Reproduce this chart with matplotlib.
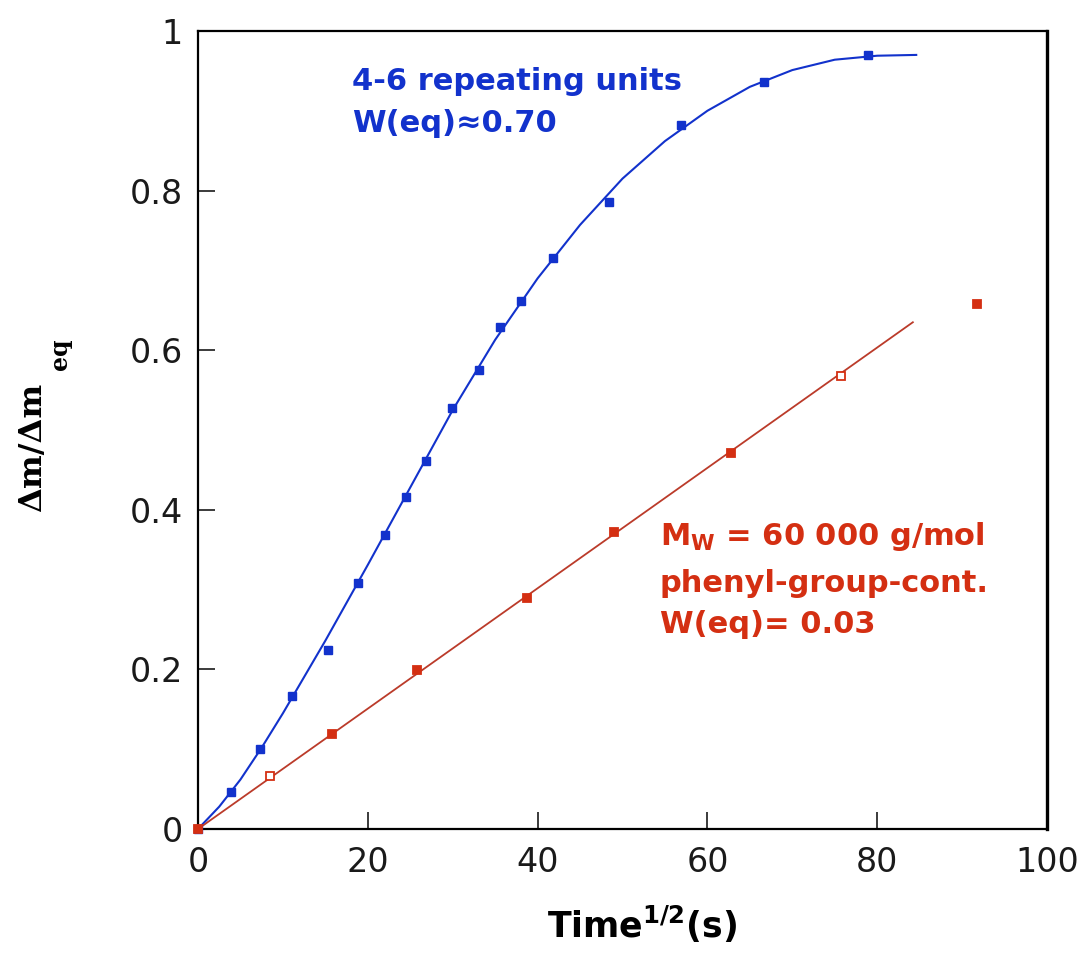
import matplotlib.pyplot as plt

# data
blue_x = [0, 3.9, 7.3, 11.1, 15.3, 18.8, 22.0, 24.5, 26.8, 29.9, 33.1, 35.6, 38.0, 41.8, 48.4, 56.9, 66.7, 78.9]
blue_y = [0, 0.046, 0.100, 0.167, 0.224, 0.308, 0.368, 0.416, 0.461, 0.528, 0.575, 0.629, 0.662, 0.716, 0.786, 0.882, 0.936, 0.970]

# fitted curve (blue)
fit_x = [0, 2.5, 5, 7.5, 10, 15, 20, 25, 30, 35, 40, 45, 50, 55, 60, 65, 70, 75, 80, 84.6]
fit_y = [0, 0.028, 0.062, 0.102, 0.145, 0.236, 0.331, 0.428, 0.525, 0.613, 0.690, 0.757, 0.815, 0.862, 0.900, 0.930, 0.951, 0.964, 0.969, 0.970]

red_x = [0, 8.5, 15.8, 25.8, 38.8, 49.0, 62.8, 75.7, 91.8]
red_y = [0, 0.066, 0.119, 0.199, 0.289, 0.372, 0.471, 0.568, 0.658]
red_open = [False, True, False, False, False, False, False, True, False]

# linear fit (red)
red_fit_x = [0, 84.2]
red_fit_y = [0, 0.635]

xticks = [0, 20, 40, 60, 80, 100]
yticks = [0, 0.2, 0.4, 0.6, 0.8, 1.0]
ytick_labels = ['0', '0.2', '0.4', '0.6', '0.8', '1']

blue = '#1232cc'
red = '#d42f12'
red_line = '#bb3b2a'

fig = plt.figure(figsize=(10.88, 9.68), dpi=100)
ax = fig.add_axes([0.182, 0.1436, 0.7803, 0.8244])

ax.plot(fit_x, fit_y, color=blue, lw=1.5, zorder=2)
ax.plot(blue_x, blue_y, 's', color=blue, ms=5.5, zorder=3, clip_on=False)

ax.plot(red_fit_x, red_fit_y, color=red_line, lw=1.3, zorder=2)
for x, y, o in zip(red_x, red_y, red_open):
    ax.plot(x, y, 's', ms=5.5, mec=red, mfc='white' if o else red, mew=1.3, zorder=3, clip_on=False)

ax.set_xlim(0, 100)
ax.set_ylim(0, 1)
ax.set_xticks(xticks)
ax.set_yticks(yticks)
ax.set_yticklabels(ytick_labels)
ax.tick_params(direction='in', length=12, width=1.2, labelsize=24, colors='#1a1a1a')
ax.tick_params(axis='x', pad=12)
ax.tick_params(axis='y', pad=11)
for s in ax.spines.values():
    s.set_linewidth(1.6)
ax.spines['right'].set_linewidth(2.4)

# annotations
ax.text(18.1, 0.926, '4-6 repeating units', color=blue, fontsize=22, fontweight='bold', va='baseline')
ax.text(18.1, 0.873, 'W(eq)≈0.70', color=blue, fontsize=22, fontweight='bold', va='baseline')
ax.text(54.4, 0.356, r'M$_{\mathbf{W}}$ = 60 000 g/mol', color=red, fontsize=22, fontweight='bold', va='baseline')
ax.text(54.4, 0.297, 'phenyl-group-cont.', color=red, fontsize=22, fontweight='bold', va='baseline')
ax.text(54.4, 0.2456, 'W(eq)= 0.03', color=red, fontsize=22, fontweight='bold', va='baseline')

# axis labels
fig.text(0.59, 0.024, r'Time$^{\mathbf{1/2}}$(s)', fontsize=25, fontweight='bold', ha='center', va='bottom')
fig.text(33 / 1088, (968 - 512) / 968, 'Δm/Δm', family='DejaVu Serif', fontsize=23,
         fontweight='bold', rotation=90, ha='center', va='bottom')
fig.text(60 / 1088, (968 - 370) / 968, 'eq', family='DejaVu Serif', fontsize=17,
         fontweight='bold', rotation=90, ha='center', va='bottom')

fig.savefig('out.png', dpi=100)
